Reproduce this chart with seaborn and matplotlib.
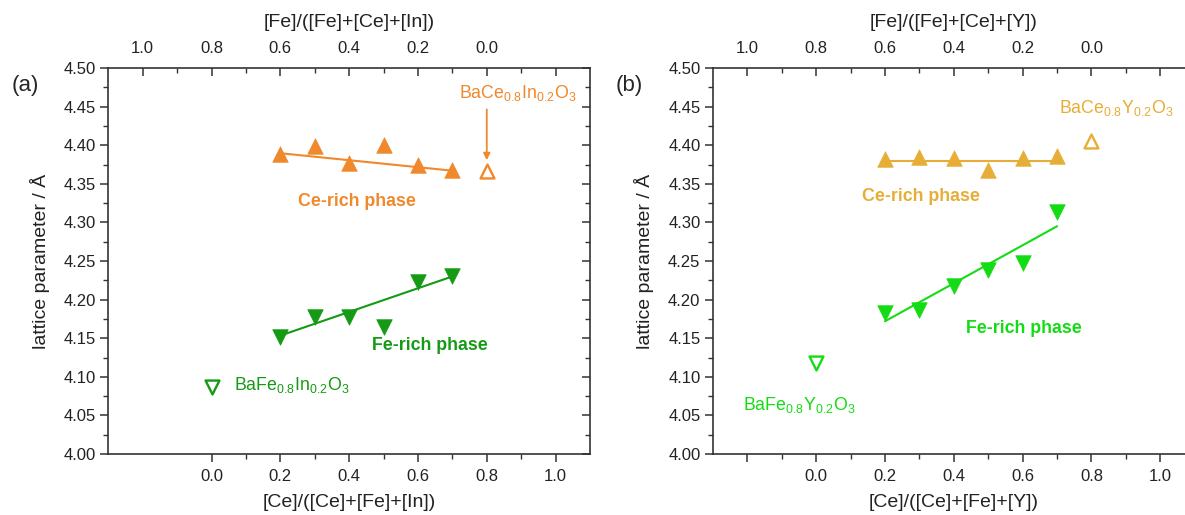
import numpy as np
import pandas as pd
import matplotlib
matplotlib.use('Agg')
import matplotlib.pyplot as plt
import seaborn as sns

# ---- data ----
ce_frac = [0.2, 0.3, 0.4, 0.5, 0.6, 0.7]

# panel (a): Ba(Ce,Fe,In)O3
a_ce_rich = [4.389, 4.399, 4.377, 4.400, 4.375, 4.368]
a_fe_rich = [4.152, 4.178, 4.178, 4.164, 4.223, 4.231]
a_ref_ce = (0.8, 4.367)      # BaCe0.8In0.2O3
a_ref_fe = (0.0, 4.087)      # BaFe0.8In0.2O3
a_fit_x = [0.2, 0.7]
a_fit_ce = [4.3896, 4.367]
a_fit_fe = [4.1534, 4.230]

# panel (b): Ba(Ce,Fe,Y)O3
b_ce_rich = [4.382, 4.385, 4.384, 4.368, 4.384, 4.386]
b_fe_rich = [4.183, 4.187, 4.218, 4.238, 4.248, 4.314]
b_ref_ce = (0.8, 4.405)      # BaCe0.8Y0.2O3
b_ref_fe = (0.0, 4.118)      # BaFe0.8Y0.2O3
b_fit_x = [0.2, 0.7]
b_fit_ce = [4.3797, 4.3797]
b_fit_fe = [4.172, 4.295]

top_ticks = [1.0, 0.8, 0.6, 0.4, 0.2, 0.0, -0.2]
top_labels = ['1.0', '0.8', '0.6', '0.4', '0.2', '0.0', '']

sns.set_style('ticks')
plt.rcParams['font.family'] = ['Liberation Sans', 'DejaVu Sans']
plt.rcParams['mathtext.default'] = 'regular'

ORANGE = '#F0882C'
GREEN_A = '#149A14'
GOLD = '#E6AE36'
GREEN_B = '#14DC14'
AXC = '#333333'
TXT = '#222222'
TICK_FS = 12
LABEL_FS = 14
NOTE_FS = 12.8

fig = plt.figure(figsize=(11.85, 5.15), dpi=100)
W, H = 1185, 515
ax_a = fig.add_axes([108.3 / W, 61 / H, 481.7 / W, 386 / H])
ax_b = fig.add_axes([713 / W, 61 / H, 481.7 / W, 386 / H])


def style_axes(ax, bottom_ticks, bottom_labels, top_el, bottom_el):
    ax.set_xlim(-0.3, 1.1)
    ax.set_ylim(4.0, 4.5)
    ax.set_yticks(np.arange(4.0, 4.501, 0.05))
    ax.set_yticks(np.arange(4.025, 4.5, 0.05), minor=True)
    ax.set_yticklabels(['%.2f' % v for v in np.arange(4.0, 4.501, 0.05)])
    ax.set_xticks(bottom_ticks)
    ax.set_xticklabels(bottom_labels)
    minors = [v for v in np.arange(-0.2, 1.05, 0.1)
              if min(bottom_ticks) < v < max(bottom_ticks) and
              all(abs(v - t) > 1e-6 for t in bottom_ticks)]
    ax.set_xticks(minors, minor=True)
    for s in ax.spines.values():
        s.set_visible(True)
        s.set_color(AXC)
        s.set_linewidth(1.2)
    ax.tick_params(axis='y', which='both', direction='out', left=True,
                   right=True, color=AXC, labelsize=TICK_FS, labelcolor=TXT,
                   pad=3)
    ax.tick_params(axis='y', which='major', length=6, width=1.1)
    ax.tick_params(axis='y', which='minor', length=3.5, width=1.0)
    # right side ticks point inward
    for t in ax.yaxis.get_major_ticks() + ax.yaxis.get_minor_ticks():
        t.tick2line.set_marker(matplotlib.lines.TICKLEFT)
    ax.tick_params(axis='x', which='both', direction='out', color=AXC,
                   labelsize=TICK_FS, labelcolor=TXT, pad=5)
    ax.tick_params(axis='x', which='major', length=6, width=1.1)
    ax.tick_params(axis='x', which='minor', length=3.5, width=1.0)
    ax.set_ylabel('lattice parameter / Å', fontsize=LABEL_FS, labelpad=10,
                  color=TXT)
    ax.set_xlabel(bottom_el, fontsize=LABEL_FS, labelpad=7, color=TXT)

    top = ax.twiny()
    top.set_xlim(ax.get_xlim())
    top.set_xticks([0.8 - t for t in top_ticks])
    top.set_xticklabels(top_labels)
    top.set_xticks([0.8 - t for t in np.arange(-0.1, 1.0, 0.2)], minor=True)
    top.tick_params(axis='x', which='both', direction='in', color=AXC,
                    labelsize=TICK_FS, labelcolor=TXT, pad=8.5)
    top.tick_params(axis='x', which='major', length=6, width=1.1)
    top.tick_params(axis='x', which='minor', length=3.5, width=1.0)
    for s in top.spines.values():
        s.set_visible(False)
    top.set_xlabel(top_el, fontsize=LABEL_FS, labelpad=10, color=TXT)
    return top


def draw_panel(ax, ce, fe, ref_ce, ref_fe, fit_x, fit_ce, fit_fe, c_ce, c_fe):
    df = pd.DataFrame({'x': ce_frac, 'ce': ce, 'fe': fe})
    fit = pd.DataFrame({'x': fit_x, 'ce': fit_ce, 'fe': fit_fe})
    sns.lineplot(data=fit, x='x', y='ce', ax=ax, color=c_ce, lw=1.5)
    sns.lineplot(data=fit, x='x', y='fe', ax=ax, color=c_fe, lw=1.5)
    sns.scatterplot(data=df, x='x', y='ce', ax=ax, marker='^', s=125,
                    color=c_ce, edgecolor=c_ce, linewidth=0.5, zorder=3)
    sns.scatterplot(data=df, x='x', y='fe', ax=ax, marker='v', s=125,
                    color=c_fe, edgecolor=c_fe, linewidth=0.5, zorder=3)
    sns.scatterplot(x=[ref_ce[0]], y=[ref_ce[1]], ax=ax, marker='^', s=100,
                    facecolor='white', edgecolor=c_ce, linewidth=1.7, zorder=3)
    sns.scatterplot(x=[ref_fe[0]], y=[ref_fe[1]], ax=ax, marker='v', s=100,
                    facecolor='white', edgecolor=c_fe, linewidth=1.7, zorder=3)


# panel (a)
draw_panel(ax_a, a_ce_rich, a_fe_rich, a_ref_ce, a_ref_fe, a_fit_x,
           a_fit_ce, a_fit_fe, ORANGE, GREEN_A)
style_axes(ax_a, [0.0, 0.2, 0.4, 0.6, 0.8, 1.0],
           ['0.0', '0.2', '0.4', '0.6', '0.8', '1.0'],
           '[Fe]/([Fe]+[Ce]+[In])', '[Ce]/([Ce]+[Fe]+[In])')
ax_a.text(0.89, 4.467, r'BaCe$_{0.8}$In$_{0.2}$O$_3$', color=ORANGE,
          fontsize=NOTE_FS, ha='center', va='center')
ax_a.annotate('', xy=(0.8, 4.377), xytext=(0.8, 4.450),
              arrowprops=dict(arrowstyle='-|>', color=ORANGE, lw=1.3,
                              mutation_scale=10))
ax_a.text(0.422, 4.327, 'Ce-rich phase', color=ORANGE, fontsize=NOTE_FS,
          fontweight='bold', ha='center', va='center')
ax_a.text(0.636, 4.140, 'Fe-rich phase', color=GREEN_A, fontsize=NOTE_FS,
          fontweight='bold', ha='center', va='center')
ax_a.text(0.065, 4.089, r'BaFe$_{0.8}$In$_{0.2}$O$_3$', color=GREEN_A,
          fontsize=NOTE_FS, ha='left', va='center')

# panel (b)
draw_panel(ax_b, b_ce_rich, b_fe_rich, b_ref_ce, b_ref_fe, b_fit_x,
           b_fit_ce, b_fit_fe, GOLD, GREEN_B)
style_axes(ax_b, [-0.2, 0.0, 0.2, 0.4, 0.6, 0.8, 1.0],
           ['', '0.0', '0.2', '0.4', '0.6', '0.8', '1.0'],
           '[Fe]/([Fe]+[Ce]+[Y])', '[Ce]/([Ce]+[Fe]+[Y])')
ax_b.text(0.872, 4.448, r'BaCe$_{0.8}$Y$_{0.2}$O$_3$', color=GOLD,
          fontsize=NOTE_FS, ha='center', va='center')
ax_b.text(0.304, 4.333, 'Ce-rich phase', color=GOLD, fontsize=NOTE_FS,
          fontweight='bold', ha='center', va='center')
ax_b.text(0.604, 4.162, 'Fe-rich phase', color=GREEN_B, fontsize=NOTE_FS,
          fontweight='bold', ha='center', va='center')
ax_b.text(-0.048, 4.063, r'BaFe$_{0.8}$Y$_{0.2}$O$_3$', color=GREEN_B,
          fontsize=NOTE_FS, ha='center', va='center')

fig.text(25 / W, 1 - 86 / H, '(a)', fontsize=16, ha='center', va='center')
fig.text(629 / W, 1 - 86 / H, '(b)', fontsize=16, ha='center', va='center')

fig.savefig('out.png', dpi=100)
